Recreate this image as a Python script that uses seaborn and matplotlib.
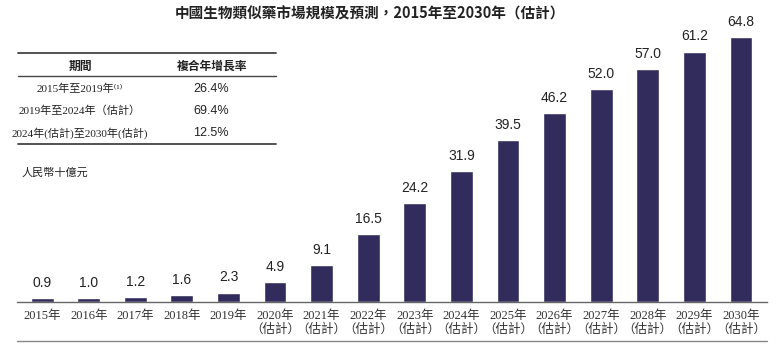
import matplotlib
matplotlib.use("Agg")
import matplotlib.pyplot as plt
import seaborn as sns
import pandas as pd
from matplotlib.lines import Line2D

years = ["2015年", "2016年", "2017年", "2018年", "2019年", "2020年\n（估計）", "2021年\n（估計）",
         "2022年\n（估計）", "2023年\n（估計）", "2024年\n（估計）", "2025年\n（估計）", "2026年\n（估計）",
         "2027年\n（估計）", "2028年\n（估計）", "2029年\n（估計）", "2030年\n（估計）"]
values = [0.9, 1.0, 1.2, 1.6, 2.3, 4.9, 9.1, 16.5, 24.2, 31.9, 39.5, 46.2, 52.0, 57.0, 61.2, 64.8]

table_header = ["期間", "複合年增長率"]
table_periods = ["2015年至2019年⁽¹⁾", "2019年至2024年（估計）", "2024年(估計)至2030年(估計)"]
table_cagr = ["26.4%", "69.4%", "12.5%"]

title = "中國生物類似藥市場規模及預測，2015年至2030年（估計）"
unit = "人民幣十億元"

sns.set_theme(style="white")
serif = ["Liberation Serif", "Noto Sans CJK TC", "DejaVu Sans"]
sans = ["Liberation Sans", "Noto Sans CJK TC", "DejaVu Sans"]
cjk = ["Noto Sans CJK TC", "DejaVu Sans"]
plt.rcParams["font.family"] = sans

W, H = 776, 351
fig = plt.figure(figsize=(W / 100, H / 100), dpi=100)
ax = fig.add_axes([17 / W, (H - 302) / H, 750 / W, 302 / H])

df = pd.DataFrame({"year": years, "value": values})
color = "#322c5c"
sns.barplot(data=df, x="year", y="value", color=color, saturation=1, width=0.49, ax=ax)

ax.set_xlim(-0.54, 15.56)
ax.set_ylim(0, 73.8)
for s in ["top", "right", "left"]:
    ax.spines[s].set_visible(False)
ax.spines["bottom"].set_color("#666666")
ax.spines["bottom"].set_linewidth(1.0)
ax.set_yticks([])
ax.set_xlabel("")
ax.set_ylabel("")
ax.tick_params(axis="x", length=0, pad=6)
for lab in ax.get_xticklabels():
    lab.set_fontfamily(serif)
    lab.set_fontsize(9)
    lab.set_color("#333333")
    lab.set_linespacing(1.15)

for i, v in enumerate(values):
    ax.text(i, v + 2.0, f"{v:.1f}", ha="center", va="bottom", fontsize=10,
            color="#222222", family=sans)

# bottom rule
fig.add_artist(Line2D([17 / W, 767 / W], [(H - 341) / H, (H - 341) / H],
                      color="#888888", lw=1.0, transform=fig.transFigure))

# title
fig.text(370 / W, 1 - 14 / H, title, ha="center", va="center", fontsize=10.5,
         fontweight="bold", family=cjk, color="#222222")

# table
def fy(y):
    return 1 - y / H

x0, x1 = 18 / W, 276 / W
fig.add_artist(Line2D([x0, x1], [fy(53), fy(53)], color="#444444", lw=1.3, transform=fig.transFigure))
fig.add_artist(Line2D([x0, x1], [fy(76), fy(76)], color="#444444", lw=1.0, transform=fig.transFigure))
fig.add_artist(Line2D([x0, x1], [fy(144), fy(144)], color="#444444", lw=1.3, transform=fig.transFigure))
fig.text(80 / W, fy(66), table_header[0], ha="center", va="center", fontsize=8.5,
         fontweight="bold", family=cjk, color="#222222")
fig.text(212 / W, fy(66), table_header[1], ha="center", va="center", fontsize=8.5,
         fontweight="bold", family=cjk, color="#222222")
row_y = [89, 111, 133]
for p, c, y in zip(table_periods, table_cagr, row_y):
    fig.text(80 / W, fy(y), p, ha="center", va="center", fontsize=8, family=serif, color="#222222")
    fig.text(211 / W, fy(y), c, ha="center", va="center", fontsize=9, family=sans, color="#222222")

fig.text(22 / W, fy(173), unit, ha="left", va="center", fontsize=8, family=serif, color="#222222")

fig.savefig("out.png", dpi=100, facecolor="white")
